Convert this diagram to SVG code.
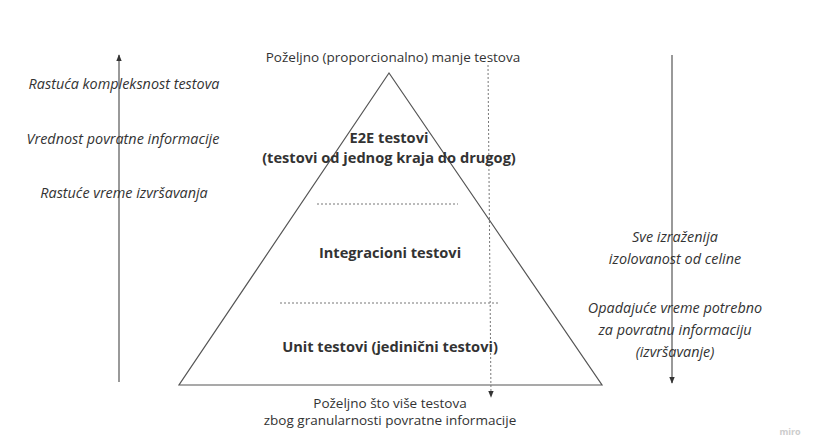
<svg xmlns="http://www.w3.org/2000/svg" width="823" height="447" viewBox="0 0 823 447">
<defs>
<style>
text{font-family:"Open Sans","Liberation Sans",sans-serif;fill:#333;text-anchor:middle}
.it{font-style:italic;font-size:14.4px}
.b{font-weight:bold;font-size:14.6px}
.n{font-size:13.5px}
.ln{stroke:#555;stroke-width:1.2;fill:none}
.dot{stroke:#777;stroke-width:1;stroke-dasharray:2 2;fill:none}
</style>
<marker id="ah" viewBox="0 0 10 10" refX="9" refY="5" markerWidth="7" markerHeight="7" orient="auto" markerUnits="userSpaceOnUse">
<path d="M0,1 L10,5 L0,9 z" fill="#333"/>
</marker>
</defs>
<rect width="823" height="447" fill="#fff"/>
<g id="pyramid">
<polygon class="ln" points="389,73 179,385 602,385"/>
</g>
<g id="connectors">
<line class="ln" x1="119" y1="382" x2="119" y2="55" marker-end="url(#ah)"/>
<line class="ln" x1="672" y1="55" x2="672" y2="383" marker-end="url(#ah)"/>
<line class="dot" x1="488" y1="65" x2="491" y2="397" marker-end="url(#ah)"/>
<line class="dot" x1="317" y1="204" x2="458" y2="204"/>
<line class="dot" x1="280" y1="303" x2="500" y2="303"/>
</g>
<g id="top-label"><text class="n" x="393" y="62">Poželjno (proporcionalno) manje testova</text></g>
<g id="e2e"><text class="b" x="389" y="143">E2E testovi</text><text class="b" x="389" y="163">(testovi od jednog kraja do drugog)</text></g>
<g id="integration"><text class="b" x="390" y="258">Integracioni testovi</text></g>
<g id="unit"><text class="b" x="390" y="352">Unit testovi (jedinični testovi)</text></g>
<g id="left-labels">
<text class="it" x="124" y="89">Rastuća kompleksnost testova</text>
<text class="it" x="123" y="144">Vrednost povratne informacije</text>
<text class="it" x="124" y="198">Rastuće vreme izvršavanja</text>
</g>
<g id="right-labels">
<text class="it" x="675" y="242">Sve izraženija</text>
<text class="it" x="675" y="264">izolovanost od celine</text>
<text class="it" x="675" y="313">Opadajuće vreme potrebno</text>
<text class="it" x="675" y="335">za povratnu informaciju</text>
<text class="it" x="675" y="357">(izvršavanje)</text>
</g>
<g id="bottom-label">
<text class="n" x="390" y="408">Poželjno što više testova</text>
<text class="n" x="390" y="425">zbog granularnosti povratne informacije</text>
</g>
<text x="790" y="435" style="font-size:9px;fill:#ccc;font-weight:bold">miro</text>
</svg>
